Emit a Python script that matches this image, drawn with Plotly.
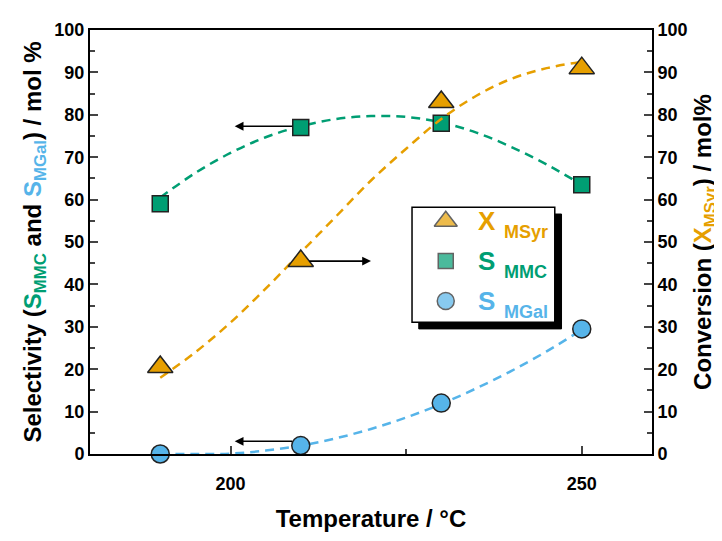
import plotly.graph_objects as go

# ---- data ----
temperature = [190, 210, 230, 250]
x_msyr = [20.5, 45.5, 83.0, 91.0]      # conversion, right axis
s_mmc = [59.0, 77.0, 78.0, 63.5]       # selectivity MMC, left axis
s_mgal = [0.0, 2.0, 12.0, 29.5]        # selectivity MGal, left axis

# fitted (dashed) guide curves
curve_t = [190, 195, 200, 205, 210, 215, 220, 225, 230, 235, 240, 245, 250]
curve_x_msyr = [18.0, 24.0, 31.0, 39.0, 47.5, 56.0, 64.5, 72.0, 79.0, 84.5, 88.5, 91.0, 92.5]
curve_s_mmc = [60.5, 66.3, 71.0, 74.7, 77.3, 79.0, 79.7, 79.5, 78.2, 75.8, 72.4, 68.3, 63.5]
curve_s_mgal = [0.0, 0.0, 0.1, 0.8, 2.0, 3.7, 5.9, 8.6, 11.8, 15.5, 19.6, 24.2, 29.3]

ORANGE = "#E69F00"
GREEN = "#009E73"
BLUE = "#56B4E9"
FONT = "Liberation Sans"

fig = go.Figure()

dash = "9px,6px"
fig.add_trace(go.Scatter(x=curve_t, y=curve_s_mmc, mode="lines", line=dict(color=GREEN, width=2.5, dash=dash, shape="spline"), showlegend=False, hoverinfo="skip"))
fig.add_trace(go.Scatter(x=curve_t, y=curve_s_mgal, mode="lines", line=dict(color=BLUE, width=2.5, dash=dash, shape="spline"), showlegend=False, hoverinfo="skip"))
fig.add_trace(go.Scatter(x=curve_t, y=curve_x_msyr, mode="lines", yaxis="y2", line=dict(color=ORANGE, width=2.5, dash=dash, shape="spline"), showlegend=False, hoverinfo="skip"))

fig.add_trace(go.Scatter(x=temperature, y=s_mmc, mode="markers", marker=dict(symbol="square", size=16, color=GREEN, line=dict(color="#222", width=1.5)), showlegend=False))
fig.add_trace(go.Scatter(x=temperature, y=s_mgal, mode="markers", marker=dict(symbol="circle", size=18, color=BLUE, line=dict(color="#222", width=1.5)), showlegend=False, cliponaxis=False))
fig.add_trace(go.Scatter(x=temperature, y=x_msyr, mode="markers", yaxis="y2", marker=dict(symbol="triangle-up", size=22, color=ORANGE, line=dict(color="#222", width=1.5)), showlegend=False))

# ---- hand-made legend box with drop shadow ----
bx0, bx1, by0, by1 = 0.573, 0.827, 0.311, 0.582
sx, sy = 0.012, 0.016
fig.add_shape(type="rect", xref="paper", yref="paper", x0=bx0 + sx, x1=bx1 + sx, y0=by0 - sy, y1=by1 - sy,
              fillcolor="black", line=dict(color="black", width=1), layer="below")
fig.add_shape(type="rect", xref="paper", yref="paper", x0=bx0, x1=bx1, y0=by0, y1=by1,
              fillcolor="white", line=dict(color="black", width=1.5), layer="below")

legend_rows = [0.549, 0.455, 0.361]
legend_syms = ["triangle-up", "square", "circle"]
legend_cols = [ORANGE, GREEN, BLUE]
legend_sizes = [20, 15, 17]
legend_main = ["X", "S", "S"]
legend_sub = ["MSyr", "MMC", "MGal"]
fig.add_trace(go.Scatter(x=[0.633] * 3, y=legend_rows, xaxis="x3", yaxis="y3", mode="markers",
                         marker=dict(symbol=legend_syms, size=legend_sizes, color=legend_cols, line=dict(color="#222", width=1.5)),
                         showlegend=False, hoverinfo="skip"))
for yy, m, s, c in zip(legend_rows, legend_main, legend_sub, legend_cols):
    fig.add_annotation(xref="paper", yref="paper", x=0.687, y=yy, xanchor="left", yanchor="middle",
                       text=f"<b>{m}</b>", showarrow=False,
                       font=dict(family=FONT, size=26, color=c))
    fig.add_annotation(xref="paper", yref="paper", x=0.733, y=yy, xanchor="left", yanchor="middle",
                       text=f"<b>{s}</b>", showarrow=False, yshift=-11,
                       font=dict(family=FONT, size=18, color=c))

# ---- arrows pointing to the relevant axis ----
arrow = dict(showarrow=True, arrowhead=2, arrowsize=1.1, arrowwidth=1.6, arrowcolor="black",
             axref="x", ayref="y", text="", startstandoff=7)
fig.add_annotation(x=200.6, y=77.3, ax=210, ay=77.3, xref="x", yref="y", **arrow)
fig.add_annotation(x=220.0, y=45.5, ax=210, ay=45.5, xref="x", yref="y", **arrow)
fig.add_annotation(x=200.6, y=3.0, ax=210, ay=3.0, xref="x", yref="y", **arrow)

tickfont = dict(family=FONT, size=18, color="black", weight="bold")
titlefont = dict(family=FONT, size=24, color="black", weight="bold")

fig.update_layout(
    width=722, height=541,
    margin=dict(l=82, r=78, t=22, b=95),
    paper_bgcolor="white", plot_bgcolor="white",
    showlegend=False,
    xaxis=dict(range=[180, 260], tick0=0, dtick=50, ticks="inside", ticklen=8, tickwidth=1.5,
               minor=dict(dtick=25, ticks="inside", ticklen=5, tickwidth=1.5),
               showline=True, linecolor="black", linewidth=2, mirror=True, showgrid=False, zeroline=False,
               tickfont=tickfont, ticklabelstandoff=12,
               title=dict(text="Temperature / °C", font=titlefont, standoff=18)),
    yaxis=dict(range=[0, 100], dtick=10, ticks="inside", ticklen=8, tickwidth=1.5,
               minor=dict(dtick=5, ticks="inside", ticklen=5, tickwidth=1.5),
               showline=True, linecolor="black", linewidth=2, showgrid=False, zeroline=False,
               tickfont=tickfont,
               title=dict(text=f"Selectivity (<span style='color:{GREEN}'>S<sub>MMC</sub></span> and <span style='color:{BLUE}'>S<sub>MGal</sub></span>) / mol %",
                          font=titlefont, standoff=6)),
    yaxis2=dict(range=[0, 100], dtick=10, ticks="inside", ticklen=8, tickwidth=1.5,
                minor=dict(dtick=5, ticks="inside", ticklen=5, tickwidth=1.5),
                overlaying="y", side="right", showline=True, linecolor="black", linewidth=2,
                showgrid=False, zeroline=False, tickfont=tickfont,
                title=dict(text=f"Conversion (<span style='color:{ORANGE}'>X<sub>MSyr</sub></span>) / mol%",
                           font=titlefont, standoff=8)),
    xaxis3=dict(domain=[0, 1], range=[0, 1], overlaying="x", visible=False, fixedrange=True),
    yaxis3=dict(domain=[0, 1], range=[0, 1], overlaying="y", visible=False, fixedrange=True),
)

fig.write_html("out.html")
